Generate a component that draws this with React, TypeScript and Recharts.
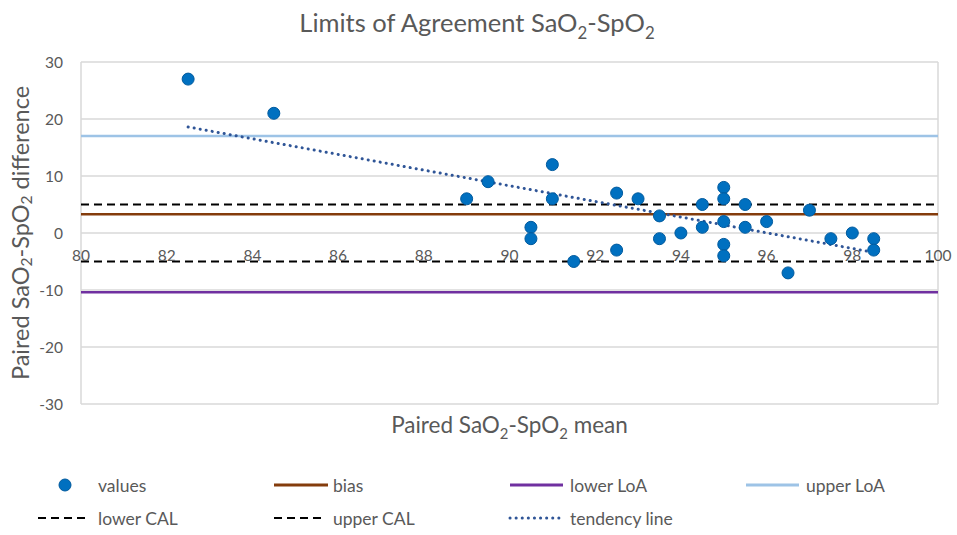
import React from 'react';
import {
  ScatterChart,
  Scatter,
  XAxis,
  YAxis,
  CartesianGrid,
  ReferenceLine,
  ReferenceDot,
  Customized,
} from 'recharts';

// ---- data ----
const pointX = [82.5, 84.5, 89, 89.5, 90.5, 90.5, 91, 91, 91.5, 92.5, 92.5, 93, 93.5, 93.5, 94, 94.5, 94.5, 95, 95, 95, 95, 95, 95.5, 95.5, 96, 96.5, 97, 97.5, 98, 98.5, 98.5];
const pointY = [27, 21, 6, 9, 1, -1, 12, 6, -5, 7, -3, 6, 3, -1, 0, 5, 1, 8, 6, 2, -2, -4, 5, 1, 2, -7, 4, -1, 0, -1, -3];
const biasValue = 3.3;
const lowerLoA = -10.4;
const upperLoA = 17.0;
const lowerCAL = -5;
const upperCAL = 5;
const trendX = [82.5, 98.5];
const trendY = [18.6, -3.4];
const xTicks = [80, 82, 84, 86, 88, 90, 92, 94, 96, 98, 100];
const yTicks = [-30, -20, -10, 0, 10, 20, 30];

const points = pointX.map((x, i) => ({ x, y: pointY[i] }));

const FONT = "Lato, 'Open Sans', sans-serif";
const TXT = '#595959';
const C_DOT = '#0070C0';
const C_BIAS = '#843C0C';
const C_LLOA = '#7030A0';
const C_ULOA = '#9DC3E6';
const C_TREND = '#2F5597';

// text with subscripts
function SubText({ parts, size, shift }: { parts: [string, boolean][]; size: number; shift: number }) {
  const out: React.ReactNode[] = [];
  let cur = 0;
  parts.forEach(([t, sub], i) => {
    const target = sub ? shift : 0;
    const dy = target - cur;
    cur = target;
    out.push(
      <tspan key={i} dy={dy} fontSize={sub ? size * 0.66 : size}>
        {t}
      </tspan>
    );
  });
  return <>{out}</>;
}

const titleParts: [string, boolean][] = [
  ['Limits of Agreement SaO', false],
  ['2', true],
  ['-SpO', false],
  ['2', true],
];
const yTitleParts: [string, boolean][] = [
  ['Paired SaO', false],
  ['2', true],
  ['-SpO', false],
  ['2', true],
  [' difference', false],
];
const xTitleParts: [string, boolean][] = [
  ['Paired SaO', false],
  ['2', true],
  ['-SpO', false],
  ['2', true],
  [' mean', false],
];

function Title() {
  return (
    <text x={477} y={32} textAnchor="middle" fill={TXT} fontFamily={FONT} fontSize={25.5}>
      <SubText parts={titleParts} size={25.5} shift={7} />
    </text>
  );
}

function LegendBox() {
  const row1 = 485;
  const row2 = 518;
  const fs = 17.5;
  const label = (x: number, y: number, t: string) => (
    <text x={x} y={y} dominantBaseline="central" fill={TXT} fontFamily={FONT} fontSize={fs}>
      {t}
    </text>
  );
  return (
    <g>
      <circle cx={65} cy={row1} r={6} fill={C_DOT} stroke="#005A9E" strokeWidth={1} />
      {label(98, row1, 'values')}
      <line x1={274} x2={328} y1={row1} y2={row1} stroke={C_BIAS} strokeWidth={3} />
      {label(333, row1, 'bias')}
      <line x1={510} x2={563} y1={row1} y2={row1} stroke={C_LLOA} strokeWidth={3} />
      {label(570, row1, 'lower LoA')}
      <line x1={746} x2={799} y1={row1} y2={row1} stroke={C_ULOA} strokeWidth={3} />
      {label(806, row1, 'upper LoA')}
      <line x1={38} x2={90} y1={row2} y2={row2} stroke="#000" strokeWidth={2} strokeDasharray="8 5" />
      {label(98, row2, 'lower CAL')}
      <line x1={274} x2={326} y1={row2} y2={row2} stroke="#000" strokeWidth={2} strokeDasharray="8 5" />
      {label(333, row2, 'upper CAL')}
      <line x1={510} x2={562} y1={row2} y2={row2} stroke={C_TREND} strokeWidth={3} strokeDasharray="0.1 6" strokeLinecap="round" />
      {label(570, row2, 'tendency line')}
    </g>
  );
}

const YTitle = (props: any) => {
  const vb = props.viewBox || {};
  const cy = vb.y + vb.height / 2;
  const cx = 20;
  return (
    <text
      x={cx}
      y={cy}
      transform={`rotate(-90 ${cx} ${cy})`}
      textAnchor="middle"
      dominantBaseline="central"
      fill={TXT}
      fontFamily={FONT}
      fontSize={23.5}
    >
      <SubText parts={yTitleParts} size={23.5} shift={6} />
    </text>
  );
};

const XTitle = (props: any) => {
  const vb = props.viewBox || {};
  const cx = vb.x + vb.width / 2;
  const cy = vb.y + 29;
  return (
    <text x={cx} y={cy} textAnchor="middle" fill={TXT} fontFamily={FONT} fontSize={22.5}>
      <SubText parts={xTitleParts} size={22.5} shift={6} />
    </text>
  );
};

export default function App() {
  return (
    <div style={{ position: 'absolute', left: 0, top: 0, width: 957, height: 535, background: '#fff' }}>
      <ScatterChart width={957} height={535} margin={{ top: 62, right: 19, bottom: 91, left: 21 }}>
        <CartesianGrid stroke="#D9D9D9" strokeWidth={1.5} />
        <XAxis
          type="number"
          dataKey="x"
          domain={[80, 100]}
          ticks={xTicks}
          tick={false}
          axisLine={false}
          tickLine={false}
          height={40}
          label={{ content: XTitle } as any}
        />
        <YAxis
          type="number"
          dataKey="y"
          domain={[-30, 30]}
          ticks={yTicks}
          width={60}
          axisLine={false}
          tickLine={false}
          tickSize={0}
          tickMargin={18}
          tick={{ fill: TXT, fontSize: 15.5, fontFamily: FONT }}
          label={{ content: YTitle } as any}
        />
        {xTicks.map((v) => (
          <ReferenceDot
            key={v}
            x={v}
            y={0}
            r={0}
            fill="none"
            stroke="none"
            label={{ value: String(v), position: 'bottom', offset: 17, fill: TXT, fontSize: 15.5, fontFamily: FONT }}
          />
        ))}
        <ReferenceLine y={upperLoA} stroke={C_ULOA} strokeWidth={2.5} />
        <ReferenceLine y={lowerLoA} stroke={C_LLOA} strokeWidth={2.5} />
        <ReferenceLine y={upperCAL} stroke="#000" strokeWidth={2} strokeDasharray="8 5" />
        <ReferenceLine y={lowerCAL} stroke="#000" strokeWidth={2} strokeDasharray="8 5" />
        <ReferenceLine y={biasValue} stroke={C_BIAS} strokeWidth={2.5} />
        <Scatter
          data={points}
          fill={C_DOT}
          stroke="#005A9E"
          strokeWidth={1}
          isAnimationActive={false}
          shape={(p: any) => <circle cx={p.cx} cy={p.cy} r={6} fill={C_DOT} stroke="#005A9E" strokeWidth={1} />}
        />
        <ReferenceLine
          segment={[
            { x: trendX[0], y: trendY[0] },
            { x: trendX[1], y: trendY[1] },
          ]}
          stroke={C_TREND}
          strokeWidth={3}
          strokeDasharray="0.1 6"
          strokeLinecap="round"
        />
        <Customized component={Title} />
        <Customized component={LegendBox} />
      </ScatterChart>
    </div>
  );
}
